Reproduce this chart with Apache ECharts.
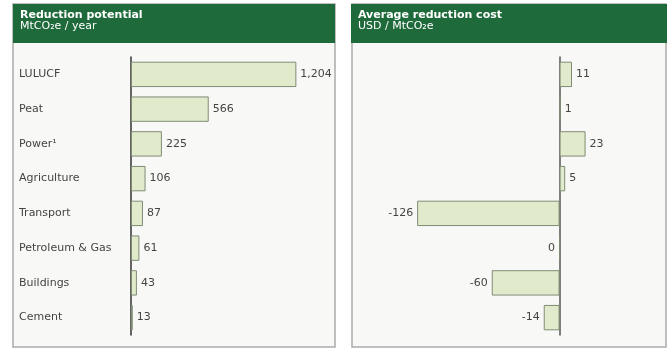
<!DOCTYPE html>
<html>
<head>
<meta charset="utf-8">
<script src="https://cdn.jsdelivr.net/npm/echarts@6/dist/echarts.min.js"></script>
<style>
  html, body { margin: 0; padding: 0; background: #fff; }
  #chart { width: 667px; height: 349px; }
</style>
</head>
<body>
<div id="chart"></div>
<script>
// 数据
const sectors = ['LULUCF', 'Peat', 'Power¹', 'Agriculture', 'Transport', 'Petroleum & Gas', 'Buildings', 'Cement']
const potential = [1204, 566, 225, 106, 87, 61, 43, 13]
const cost = [11, 1, 23, 5, -126, 0, -60, -14]

const barFill = '#e1eacb'
const barBorder = '#7f8c74'
const green = '#1f6a3a'

let myChart = echarts.init(document.getElementById('chart'))

let option = {
  animation: false,
  textStyle: { fontFamily: 'DejaVu Sans, Arial, sans-serif' },
  // 面板背景 + 绿色标题栏
  graphic: [
    { type: 'rect', shape: { x: 13, y: 4, width: 322, height: 343 }, style: { fill: '#f8f8f7', stroke: '#a9aca9', lineWidth: 1.5 }, z: -10 },
    { type: 'rect', shape: { x: 13, y: 4, width: 322, height: 39 }, style: { fill: green }, z: -9 },
    { type: 'rect', shape: { x: 352, y: 4, width: 314, height: 343 }, style: { fill: '#f8f8f7', stroke: '#a9aca9', lineWidth: 1.5 }, z: -10 },
    { type: 'rect', shape: { x: 351, y: 4, width: 316, height: 39 }, style: { fill: green }, z: -9 }
  ],
  title: [
    {
      text: 'Reduction potential',
      subtext: 'MtCO₂e / year',
      left: 15, top: 5,
      itemGap: 0,
      textStyle: { color: '#fff', fontSize: 11, fontWeight: 'bold' },
      subtextStyle: { color: '#fff', fontSize: 11 }
    },
    {
      text: 'Average reduction cost',
      subtext: 'USD / MtCO₂e',
      left: 353, top: 5,
      itemGap: 0,
      textStyle: { color: '#fff', fontSize: 11, fontWeight: 'bold' },
      subtextStyle: { color: '#fff', fontSize: 11 }
    }
  ],
  grid: [
    { left: 131, right: 330, top: 57, bottom: 14 },
    { left: 390, right: 17, top: 57, bottom: 14 }
  ],
  xAxis: [
    { gridIndex: 0, type: 'value', min: 0, max: 1500, show: false },
    { gridIndex: 1, type: 'value', min: -150, max: 80, show: false }
  ],
  yAxis: [
    {
      gridIndex: 0, type: 'category', data: sectors, inverse: true,
      axisLine: { lineStyle: { color: '#333', width: 1.5 } },
      axisTick: { show: false },
      axisLabel: { align: 'left', margin: 112, color: '#444', fontSize: 11 }
    },
    {
      gridIndex: 1, type: 'category', data: sectors, inverse: true,
      axisLine: { onZero: true, lineStyle: { color: '#555', width: 1.5 } },
      axisTick: { show: false },
      axisLabel: { show: false }
    }
  ],
  series: [
    {
      type: 'bar',
      xAxisIndex: 0, yAxisIndex: 0,
      barCategoryGap: '27%',
      data: potential,
      itemStyle: { color: barFill, borderColor: barBorder, borderWidth: 1 },
      label: {
        show: true, position: 'right', distance: 4,
        color: '#444', fontSize: 11,
        formatter: p => p.value.toLocaleString('en-US')
      }
    },
    {
      type: 'bar',
      xAxisIndex: 1, yAxisIndex: 1,
      barCategoryGap: '27%',
      // 正数标签在右 负数/零在左
      data: cost.map(v => ({
        value: v,
        label: { position: v > 0 ? 'right' : 'left' }
      })),
      itemStyle: { color: barFill, borderColor: barBorder, borderWidth: 1 },
      label: { show: true, distance: 4, color: '#444', fontSize: 11 }
    }
  ]
}
myChart.setOption(option)
</script>
</body>
</html>
